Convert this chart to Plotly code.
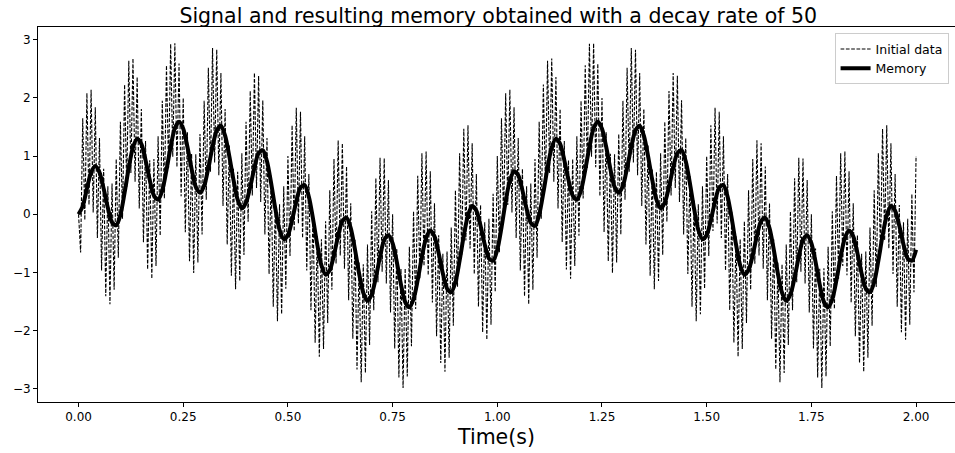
import numpy as np
import plotly.graph_objects as go

initial_data = [
    0.00, -0.66, 1.65, -0.10, 2.08, 0.16, 2.14, 0.03, 1.84, -0.41,
    1.31, -0.97, 0.78, -1.41, 0.48, -1.55, 0.53, -1.30, 0.95, -0.75,
    1.59, -0.08, 2.23, 0.47, 2.64, 0.71, 2.68, 0.56, 2.36, 0.10,
    1.81, -0.48, 1.26, -0.95, 0.93, -1.11, 0.95, -0.89, 1.34, -0.37,
    1.95, 0.27, 2.56, 0.79, 2.93, 0.99, 2.94, 0.81, 2.59, 0.31,
    2.00, -0.31, 1.41, -0.81, 1.04, -1.01, 1.03, -0.83, 1.38, -0.35,
    1.95, 0.25, 2.52, 0.73, 2.86, 0.89, 2.83, 0.67, 2.43, 0.14,
    1.81, -0.52, 1.18, -1.06, 0.78, -1.29, 0.73, -1.15, 1.05, -0.70,
    1.59, -0.13, 2.12, 0.32, 2.43, 0.45, 2.38, 0.21, 1.96, -0.35,
    1.31, -1.03, 0.66, -1.59, 0.24, -1.84, 0.17, -1.72, 0.48, -1.28,
    1.00, -0.72, 1.53, -0.29, 1.83, -0.16, 1.76, -0.41, 1.34, -0.97,
    0.69, -1.65, 0.04, -2.21, -0.38, -2.45, -0.43, -2.32, -0.12, -1.87,
    0.41, -1.30, 0.95, -0.85, 1.27, -0.71, 1.22, -0.94, 0.82, -1.48,
    0.19, -2.14, -0.43, -2.67, -0.83, -2.89, -0.86, -2.73, -0.52, -2.25,
    0.05, -1.65, 0.62, -1.17, 0.97, -0.99, 0.96, -1.19, 0.59, -1.69,
    0.00, -2.31, -0.59, -2.81, -0.94, -2.99, -0.93, -2.79, -0.56, -2.27,
    0.05, -1.63, 0.66, -1.11, 1.05, -0.89, 1.08, -1.05, 0.74, -1.52,
    0.19, -2.10, -0.36, -2.56, -0.68, -2.71, -0.64, -2.47, -0.23, -1.92,
    0.41, -1.25, 1.05, -0.70, 1.47, -0.45, 1.53, -0.59, 1.22, -1.03,
    0.69, -1.59, 0.16, -2.03, -0.14, -2.16, -0.08, -1.90, 0.35, -1.34,
    1.00, -0.66, 1.65, -0.10, 2.08, 0.16, 2.14, 0.03, 1.84, -0.41,
    1.31, -0.97, 0.78, -1.41, 0.48, -1.55, 0.53, -1.30, 0.95, -0.75,
    1.59, -0.08, 2.23, 0.47, 2.64, 0.71, 2.68, 0.56, 2.36, 0.10,
    1.81, -0.48, 1.26, -0.95, 0.93, -1.11, 0.95, -0.89, 1.34, -0.37,
    1.95, 0.27, 2.56, 0.79, 2.93, 0.99, 2.94, 0.81, 2.59, 0.31,
    2.00, -0.31, 1.41, -0.81, 1.04, -1.01, 1.03, -0.83, 1.38, -0.35,
    1.95, 0.25, 2.52, 0.73, 2.86, 0.89, 2.83, 0.67, 2.43, 0.14,
    1.81, -0.52, 1.18, -1.06, 0.78, -1.29, 0.73, -1.15, 1.05, -0.70,
    1.59, -0.13, 2.12, 0.32, 2.43, 0.45, 2.38, 0.21, 1.96, -0.35,
    1.31, -1.03, 0.66, -1.59, 0.24, -1.84, 0.17, -1.72, 0.48, -1.28,
    1.00, -0.72, 1.53, -0.29, 1.83, -0.16, 1.76, -0.41, 1.34, -0.97,
    0.69, -1.65, 0.04, -2.21, -0.38, -2.45, -0.43, -2.32, -0.12, -1.87,
    0.41, -1.30, 0.95, -0.85, 1.27, -0.71, 1.22, -0.94, 0.82, -1.48,
    0.19, -2.14, -0.43, -2.67, -0.83, -2.89, -0.86, -2.73, -0.52, -2.25,
    0.05, -1.65, 0.62, -1.17, 0.97, -0.99, 0.96, -1.19, 0.59, -1.69,
    0.00, -2.31, -0.59, -2.81, -0.94, -2.99, -0.93, -2.79, -0.56, -2.27,
    0.05, -1.63, 0.66, -1.11, 1.05, -0.89, 1.08, -1.05, 0.74, -1.52,
    0.19, -2.10, -0.36, -2.56, -0.68, -2.71, -0.64, -2.47, -0.23, -1.92,
    0.41, -1.25, 1.05, -0.70, 1.47, -0.45, 1.53, -0.59, 1.22, -1.03,
    0.69, -1.59, 0.16, -2.03, -0.14, -2.16, -0.08, -1.90, 0.35, -1.34,
    1.00,
]

memory = [
    0.00, 0.14, 0.44, 0.72, 0.83, 0.72, 0.44, 0.11, -0.14, -0.19,
    -0.01, 0.37, 0.80, 1.15, 1.30, 1.21, 0.93, 0.59, 0.32, 0.25,
    0.41, 0.76, 1.16, 1.48, 1.59, 1.47, 1.16, 0.78, 0.47, 0.37,
    0.49, 0.80, 1.16, 1.44, 1.52, 1.35, 1.00, 0.59, 0.25, 0.10,
    0.20, 0.47, 0.80, 1.05, 1.10, 0.91, 0.53, 0.09, -0.27, -0.43,
    -0.36, -0.10, 0.22, 0.46, 0.50, 0.30, -0.08, -0.52, -0.88, -1.04,
    -0.96, -0.70, -0.37, -0.12, -0.06, -0.24, -0.60, -1.02, -1.35, -1.49,
    -1.38, -1.09, -0.73, -0.44, -0.36, -0.50, -0.82, -1.21, -1.51, -1.60,
    -1.46, -1.13, -0.73, -0.41, -0.28, -0.38, -0.67, -1.02, -1.28, -1.34,
    -1.17, -0.80, -0.37, -0.02, 0.14, 0.06, -0.20, -0.52, -0.76, -0.80,
    -0.61, -0.23, 0.22, 0.58, 0.74, 0.67, 0.41, 0.09, -0.15, -0.20,
    -0.01, 0.37, 0.80, 1.15, 1.30, 1.21, 0.93, 0.59, 0.32, 0.25,
    0.41, 0.76, 1.16, 1.48, 1.59, 1.47, 1.16, 0.78, 0.47, 0.37,
    0.49, 0.80, 1.16, 1.44, 1.52, 1.35, 1.00, 0.59, 0.25, 0.10,
    0.20, 0.47, 0.80, 1.05, 1.10, 0.91, 0.53, 0.09, -0.27, -0.43,
    -0.36, -0.10, 0.22, 0.46, 0.50, 0.30, -0.08, -0.52, -0.88, -1.04,
    -0.96, -0.70, -0.37, -0.12, -0.06, -0.24, -0.60, -1.02, -1.35, -1.49,
    -1.38, -1.09, -0.73, -0.44, -0.36, -0.50, -0.82, -1.21, -1.51, -1.60,
    -1.46, -1.13, -0.73, -0.41, -0.28, -0.38, -0.67, -1.02, -1.28, -1.34,
    -1.17, -0.80, -0.37, -0.02, 0.14, 0.06, -0.20, -0.52, -0.76, -0.80,
    -0.61,
]

x_tick_values = [0.0, 0.25, 0.5, 0.75, 1.0, 1.25, 1.5, 1.75, 2.0]
x_tick_labels = ["0.00", "0.25", "0.50", "0.75", "1.00", "1.25", "1.50", "1.75", "2.00"]
y_tick_values = [-3, -2, -1, 0, 1, 2, 3]

t_data = np.linspace(0, 2, len(initial_data))
t_mem = np.linspace(0, 2, len(memory))

FONT = "DejaVu Sans"

fig = go.Figure()
fig.add_trace(go.Scatter(
    x=t_data, y=initial_data, mode="lines", name="Initial data",
    line=dict(color="black", width=1.1, dash="3.7px,1.6px"),
))
fig.add_trace(go.Scatter(
    x=t_mem, y=memory, mode="lines", name="Memory",
    line=dict(color="black", width=4, shape="spline", smoothing=0.8),
))

fig.update_layout(
    width=955, height=453,
    margin=dict(l=38, r=0, t=27, b=51, autoexpand=False),
    paper_bgcolor="white", plot_bgcolor="white",
    font=dict(family=FONT, color="black", size=12),
    title=dict(
        text="Signal and resulting memory obtained with a decay rate of 50",
        x=0.5217, xanchor="center", y=0.966, yanchor="middle",
        font=dict(family=FONT, size=20.5, color="black"),
    ),
    showlegend=True,
    legend=dict(
        x=0.993, y=0.983, xanchor="right", yanchor="top",
        bgcolor="rgba(255,255,255,0.8)", bordercolor="#cccccc", borderwidth=1,
        font=dict(family=FONT, size=12.5, color="black"),
        itemwidth=30, tracegroupgap=0,
    ),
)
fig.update_xaxes(
    range=[-0.0968, 2.093], automargin=False,
    tickmode="array", tickvals=x_tick_values, ticktext=x_tick_labels,
    ticks="outside", ticklen=4, tickwidth=0.8, tickcolor="black",
    showline=True, linecolor="black", linewidth=1, mirror=True,
    showgrid=False, zeroline=False,
    tickfont=dict(family=FONT, size=12, color="black"),
    title=dict(text="Time(s)", font=dict(family=FONT, size=20.5, color="black"), standoff=6),
)
fig.update_yaxes(
    range=[-3.23, 3.22], automargin=False,
    tickmode="array", tickvals=y_tick_values,
    ticks="outside", ticklen=4, tickwidth=0.8, tickcolor="black",
    showline=True, linecolor="black", linewidth=1, mirror=False,
    showgrid=False, zeroline=False,
    tickfont=dict(family=FONT, size=12, color="black"),
)

fig.write_html(
    "out.html",
    config={"displayModeBar": False},
    post_script="document.body.style.margin='0';",
)
